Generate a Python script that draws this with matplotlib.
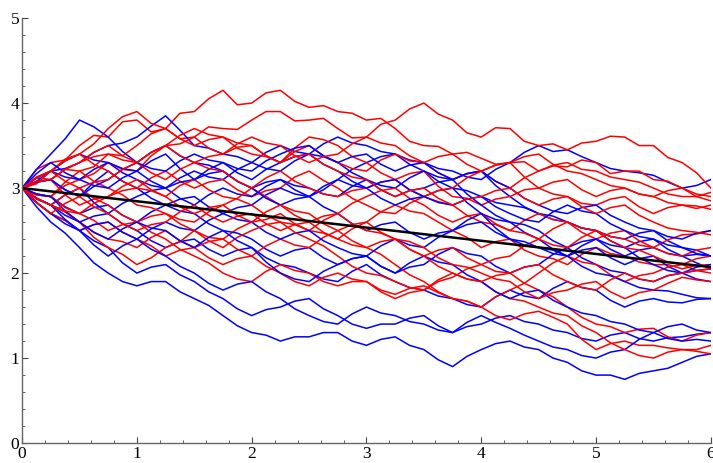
import numpy as np
import matplotlib
matplotlib.use("Agg")
import matplotlib.pyplot as plt
from matplotlib.ticker import MultipleLocator

# each path is sampled every 0.125 on [0, 6]
red_paths = [
    [3.0, 3.22, 3.3, 3.33, 3.5, 3.62, 3.6, 3.78, 3.8, 3.66, 3.7, 3.88, 3.9, 4.05, 4.15, 3.98, 4.0, 4.12, 4.15, 4.02, 3.95, 3.97, 3.9, 3.88, 3.8, 3.82, 3.7, 3.55, 3.5, 3.49, 3.4, 3.42, 3.35, 3.28, 3.3, 3.31, 3.2, 3.26, 3.25, 3.33, 3.3, 3.17, 3.2, 3.2, 3.1, 3.08, 3.0, 2.9, 2.95],
    [3.0, 3.12, 3.1, 3.22, 3.2, 3.25, 3.4, 3.38, 3.5, 3.64, 3.7, 3.58, 3.6, 3.72, 3.7, 3.69, 3.8, 3.9, 3.9, 3.79, 3.8, 3.82, 3.7, 3.59, 3.6, 3.75, 3.8, 3.93, 4.0, 3.87, 3.8, 3.65, 3.6, 3.71, 3.7, 3.55, 3.5, 3.52, 3.45, 3.53, 3.55, 3.61, 3.6, 3.5, 3.5, 3.36, 3.3, 3.18, 3.0],
    [3.0, 3.05, 3.2, 3.34, 3.4, 3.52, 3.7, 3.84, 3.9, 3.76, 3.7, 3.58, 3.5, 3.57, 3.6, 3.47, 3.4, 3.37, 3.3, 3.43, 3.5, 3.38, 3.3, 3.23, 3.2, 3.33, 3.4, 3.32, 3.3, 3.18, 3.1, 3.17, 3.2, 3.08, 3.0, 3.12, 3.2, 3.27, 3.3, 3.22, 3.2, 3.13, 3.1, 3.07, 3.0, 2.93, 2.9, 2.9, 2.85],
    [3.0, 2.92, 2.9, 3.03, 3.1, 3.17, 3.3, 3.22, 3.2, 3.38, 3.5, 3.52, 3.6, 3.47, 3.4, 3.48, 3.5, 3.38, 3.3, 3.47, 3.6, 3.57, 3.5, 3.37, 3.3, 3.18, 3.1, 3.17, 3.2, 3.02, 2.9, 2.88, 2.8, 2.87, 2.9, 2.98, 3.0, 2.93, 2.9, 2.82, 2.8, 2.87, 2.9, 2.78, 2.7, 2.77, 2.8, 2.76, 2.8],
    [3.0, 3.08, 3.1, 2.92, 2.8, 2.87, 2.9, 2.97, 3.0, 3.12, 3.2, 3.08, 3.0, 3.07, 3.1, 2.98, 2.9, 2.97, 3.0, 3.13, 3.2, 3.09, 3.0, 2.88, 2.8, 2.72, 2.7, 2.82, 2.9, 2.84, 2.8, 2.68, 2.6, 2.57, 2.5, 2.62, 2.7, 2.63, 2.6, 2.48, 2.4, 2.47, 2.5, 2.38, 2.3, 2.39, 2.45, 2.46, 2.5],
    [3.0, 2.88, 2.8, 2.72, 2.6, 2.42, 2.3, 2.22, 2.1, 2.18, 2.3, 2.37, 2.5, 2.42, 2.4, 2.52, 2.6, 2.63, 2.7, 2.58, 2.5, 2.47, 2.4, 2.52, 2.6, 2.72, 2.8, 2.73, 2.7, 2.6, 2.5, 2.42, 2.3, 2.37, 2.4, 2.27, 2.2, 2.17, 2.1, 2.22, 2.3, 2.23, 2.2, 2.13, 2.1, 2.1, 2.05, 2.09, 2.1],
    [3.0, 2.92, 2.9, 2.77, 2.7, 2.62, 2.5, 2.57, 2.6, 2.48, 2.4, 2.28, 2.2, 2.12, 2.0, 1.93, 1.9, 2.02, 2.1, 2.03, 2.0, 1.9, 1.85, 1.9, 1.9, 1.8, 1.75, 1.82, 1.85, 1.77, 1.7, 1.67, 1.6, 1.5, 1.45, 1.52, 1.55, 1.48, 1.4, 1.22, 1.1, 1.17, 1.2, 1.15, 1.15, 1.12, 1.1, 1.08, 1.05],
    [3.0, 2.83, 2.7, 2.62, 2.5, 2.57, 2.6, 2.48, 2.4, 2.32, 2.2, 2.27, 2.3, 2.18, 2.1, 2.17, 2.2, 2.08, 2.0, 1.9, 1.85, 1.95, 2.0, 1.93, 1.9, 1.78, 1.7, 1.77, 1.8, 1.9, 1.95, 2.05, 2.1, 2.02, 2.0, 1.88, 1.8, 1.72, 1.6, 1.48, 1.4, 1.37, 1.3, 1.34, 1.35, 1.25, 1.2, 1.27, 1.3],
    [3.0, 2.87, 2.8, 2.72, 2.6, 2.48, 2.4, 2.37, 2.3, 2.42, 2.5, 2.38, 2.3, 2.37, 2.4, 2.28, 2.2, 2.32, 2.4, 2.33, 2.3, 2.42, 2.5, 2.38, 2.3, 2.22, 2.1, 1.98, 1.9, 1.78, 1.7, 1.67, 1.6, 1.72, 1.8, 1.88, 2.0, 2.12, 2.2, 2.13, 2.1, 1.98, 1.9, 1.97, 2.0, 2.07, 2.1, 2.03, 2.0],
    [3.0, 3.13, 3.2, 3.32, 3.4, 3.28, 3.2, 3.08, 3.0, 2.97, 2.9, 3.03, 3.1, 2.98, 2.9, 2.87, 2.8, 2.68, 2.6, 2.57, 2.5, 2.62, 2.7, 2.58, 2.5, 2.47, 2.4, 2.28, 2.2, 2.27, 2.3, 2.18, 2.1, 2.17, 2.2, 2.32, 2.4, 2.33, 2.3, 2.42, 2.5, 2.43, 2.4, 2.33, 2.3, 2.23, 2.2, 2.27, 2.3],
    [3.0, 2.93, 2.9, 3.07, 3.2, 3.08, 3.0, 2.92, 2.8, 2.77, 2.7, 2.63, 2.6, 2.72, 2.8, 2.88, 3.0, 2.9, 2.8, 2.68, 2.6, 2.67, 2.7, 2.82, 2.9, 2.97, 3.0, 2.88, 2.8, 2.68, 2.6, 2.67, 2.7, 2.58, 2.5, 2.47, 2.4, 2.52, 2.6, 2.53, 2.5, 2.38, 2.3, 2.27, 2.2, 2.13, 2.1, 2.17, 2.2],
    [3.0, 3.07, 3.1, 3.22, 3.3, 3.42, 3.5, 3.38, 3.3, 3.18, 3.1, 3.22, 3.3, 3.23, 3.2, 3.08, 3.0, 3.12, 3.2, 3.08, 3.0, 2.93, 2.9, 2.97, 3.0, 3.07, 3.1, 2.98, 2.9, 2.97, 3.0, 3.12, 3.2, 3.27, 3.3, 3.37, 3.4, 3.28, 3.2, 3.17, 3.1, 3.03, 3.0, 2.93, 2.9, 2.97, 3.0, 2.93, 2.9],
    [3.0, 2.88, 2.8, 2.92, 3.0, 2.88, 2.8, 2.68, 2.6, 2.67, 2.7, 2.58, 2.5, 2.38, 2.3, 2.42, 2.5, 2.57, 2.6, 2.48, 2.4, 2.32, 2.2, 2.08, 2.0, 1.97, 1.9, 1.83, 1.8, 1.92, 2.0, 1.93, 1.9, 1.78, 1.7, 1.67, 1.6, 1.53, 1.5, 1.38, 1.3, 1.18, 1.1, 1.03, 1.0, 1.07, 1.1, 1.1, 1.15],
    [3.0, 3.12, 3.2, 3.08, 3.0, 3.07, 3.1, 3.22, 3.3, 3.42, 3.5, 3.38, 3.3, 3.37, 3.4, 3.52, 3.6, 3.53, 3.5, 3.38, 3.3, 3.37, 3.4, 3.52, 3.6, 3.53, 3.5, 3.38, 3.3, 3.37, 3.4, 3.28, 3.2, 3.27, 3.3, 3.13, 3.0, 3.07, 3.1, 2.98, 2.9, 2.97, 3.0, 2.93, 2.9, 2.83, 2.8, 2.79, 2.75],
    [3.0, 2.83, 2.7, 2.82, 2.9, 2.78, 2.7, 2.58, 2.5, 2.57, 2.6, 2.72, 2.8, 2.68, 2.6, 2.67, 2.7, 2.58, 2.5, 2.57, 2.6, 2.48, 2.4, 2.33, 2.3, 2.37, 2.4, 2.28, 2.2, 2.08, 2.0, 1.93, 1.9, 1.97, 2.0, 2.07, 2.1, 1.98, 1.9, 1.83, 1.8, 1.92, 2.0, 1.93, 1.9, 1.97, 2.0, 2.03, 2.05],
    [3.0, 3.07, 3.1, 3.22, 3.3, 3.37, 3.4, 3.33, 3.3, 3.42, 3.5, 3.62, 3.7, 3.63, 3.6, 3.53, 3.5, 3.38, 3.3, 3.37, 3.4, 3.28, 3.2, 3.13, 3.1, 2.98, 2.9, 2.97, 3.0, 2.88, 2.8, 2.87, 2.9, 2.97, 3.0, 2.88, 2.8, 2.87, 2.9, 2.78, 2.7, 2.77, 2.8, 2.68, 2.6, 2.53, 2.5, 2.48, 2.45],
    [3.0, 2.88, 2.8, 2.73, 2.7, 2.82, 2.9, 3.02, 3.1, 2.98, 2.9, 2.78, 2.7, 2.77, 2.8, 2.68, 2.6, 2.72, 2.8, 2.73, 2.7, 2.58, 2.5, 2.57, 2.6, 2.48, 2.4, 2.37, 2.3, 2.18, 2.1, 2.07, 2.0, 1.93, 1.9, 1.78, 1.7, 1.77, 1.8, 1.87, 1.9, 1.78, 1.7, 1.77, 1.8, 1.88, 1.95, 1.92, 1.9],
]

blue_paths = [
    [3.0, 3.12, 3.2, 3.32, 3.4, 3.33, 3.3, 3.18, 3.1, 3.03, 3.0, 3.12, 3.2, 3.13, 3.1, 3.22, 3.3, 3.23, 3.2, 3.32, 3.4, 3.52, 3.6, 3.53, 3.5, 3.43, 3.4, 3.33, 3.3, 3.23, 3.2, 3.13, 3.1, 3.22, 3.3, 3.42, 3.5, 3.43, 3.45, 3.37, 3.3, 3.23, 3.2, 3.18, 3.15, 3.07, 3.0, 3.03, 3.1],
    [3.0, 3.22, 3.4, 3.58, 3.8, 3.72, 3.6, 3.43, 3.3, 3.42, 3.5, 3.38, 3.3, 3.27, 3.2, 3.08, 3.0, 3.07, 3.1, 2.98, 2.9, 2.98, 3.1, 3.22, 3.3, 3.37, 3.4, 3.28, 3.2, 3.08, 3.0, 2.97, 2.9, 2.83, 2.8, 2.77, 2.7, 2.63, 2.6, 2.53, 2.5, 2.43, 2.4, 2.47, 2.5, 2.38, 2.3, 2.27, 2.2],
    [3.0, 3.08, 3.2, 3.23, 3.3, 3.42, 3.5, 3.53, 3.6, 3.73, 3.85, 3.68, 3.5, 3.47, 3.4, 3.37, 3.3, 3.42, 3.5, 3.43, 3.4, 3.37, 3.3, 3.18, 3.1, 2.98, 2.9, 2.97, 3.0, 3.07, 3.1, 3.17, 3.2, 3.03, 2.9, 2.78, 2.7, 2.67, 2.6, 2.53, 2.5, 2.38, 2.3, 2.37, 2.4, 2.28, 2.2, 2.12, 2.05],
    [3.0, 2.78, 2.6, 2.47, 2.3, 2.12, 2.0, 1.9, 1.85, 1.9, 1.9, 1.78, 1.7, 1.62, 1.5, 1.38, 1.3, 1.27, 1.2, 1.25, 1.25, 1.3, 1.3, 1.2, 1.15, 1.22, 1.25, 1.15, 1.1, 0.98, 0.9, 1.02, 1.1, 1.17, 1.2, 1.13, 1.1, 1.0, 0.95, 0.85, 0.8, 0.8, 0.75, 0.82, 0.85, 0.88, 0.95, 1.02, 1.05],
    [3.0, 2.83, 2.7, 2.62, 2.5, 2.38, 2.3, 2.12, 2.0, 2.07, 2.1, 1.98, 1.9, 1.78, 1.7, 1.58, 1.5, 1.57, 1.6, 1.67, 1.7, 1.58, 1.5, 1.4, 1.35, 1.4, 1.4, 1.47, 1.5, 1.38, 1.3, 1.37, 1.4, 1.47, 1.5, 1.43, 1.4, 1.33, 1.3, 1.23, 1.2, 1.27, 1.3, 1.23, 1.2, 1.24, 1.25, 1.28, 1.3],
    [3.0, 2.88, 2.8, 2.68, 2.6, 2.67, 2.7, 2.58, 2.5, 2.38, 2.3, 2.37, 2.4, 2.28, 2.2, 2.27, 2.3, 2.18, 2.1, 2.07, 2.0, 1.93, 1.9, 2.02, 2.1, 1.98, 1.9, 1.83, 1.8, 1.73, 1.7, 1.63, 1.6, 1.72, 1.8, 1.73, 1.7, 1.82, 1.9, 1.83, 1.8, 1.68, 1.6, 1.67, 1.7, 1.66, 1.65, 1.69, 1.7],
    [3.0, 2.93, 2.9, 2.78, 2.7, 2.77, 2.8, 2.68, 2.6, 2.72, 2.8, 2.73, 2.7, 2.58, 2.5, 2.47, 2.4, 2.28, 2.2, 2.27, 2.3, 2.18, 2.1, 2.17, 2.2, 2.08, 2.0, 2.07, 2.1, 2.22, 2.3, 2.23, 2.2, 2.08, 2.0, 2.07, 2.1, 2.22, 2.3, 2.18, 2.1, 2.03, 2.0, 1.93, 1.9, 1.97, 2.0, 1.93, 1.9],
    [3.0, 3.07, 3.1, 2.98, 2.9, 3.07, 3.2, 3.08, 3.0, 2.88, 2.8, 2.87, 2.9, 2.78, 2.7, 2.77, 2.8, 2.92, 3.0, 2.93, 2.9, 2.78, 2.7, 2.58, 2.5, 2.57, 2.6, 2.48, 2.4, 2.47, 2.5, 2.62, 2.7, 2.63, 2.6, 2.48, 2.4, 2.28, 2.2, 2.27, 2.3, 2.18, 2.1, 2.17, 2.2, 2.08, 2.0, 2.03, 2.05],
    [3.0, 3.12, 3.2, 3.13, 3.1, 3.22, 3.3, 3.23, 3.2, 3.08, 3.0, 3.07, 3.1, 3.22, 3.3, 3.23, 3.2, 3.32, 3.4, 3.47, 3.5, 3.38, 3.3, 3.37, 3.4, 3.28, 3.2, 3.27, 3.3, 3.18, 3.1, 3.17, 3.2, 3.08, 3.0, 2.88, 2.8, 2.73, 2.7, 2.77, 2.8, 2.68, 2.6, 2.53, 2.5, 2.43, 2.4, 2.47, 2.5],
    [3.0, 2.88, 2.8, 2.92, 3.0, 2.83, 2.7, 2.82, 2.9, 2.97, 3.0, 2.88, 2.8, 2.92, 3.0, 2.93, 2.9, 3.02, 3.1, 3.03, 3.0, 2.93, 2.9, 3.02, 3.1, 3.03, 3.0, 3.12, 3.2, 3.13, 3.1, 2.93, 2.8, 2.68, 2.6, 2.57, 2.5, 2.38, 2.3, 2.37, 2.4, 2.28, 2.2, 2.27, 2.3, 2.23, 2.2, 2.22, 2.2],
    [3.0, 2.83, 2.7, 2.58, 2.5, 2.57, 2.6, 2.48, 2.4, 2.52, 2.6, 2.53, 2.5, 2.62, 2.7, 2.63, 2.6, 2.48, 2.4, 2.47, 2.5, 2.38, 2.3, 2.23, 2.2, 2.32, 2.4, 2.33, 2.3, 2.42, 2.5, 2.57, 2.6, 2.48, 2.4, 2.33, 2.3, 2.23, 2.2, 2.32, 2.4, 2.33, 2.3, 2.18, 2.1, 2.03, 2.0, 2.07, 2.1],
    [3.0, 3.17, 3.3, 3.18, 3.1, 3.03, 3.0, 3.12, 3.2, 3.32, 3.4, 3.23, 3.1, 3.17, 3.2, 3.08, 3.0, 2.88, 2.8, 2.87, 2.9, 3.02, 3.1, 3.03, 3.0, 2.88, 2.8, 2.87, 2.9, 2.97, 3.0, 2.83, 2.7, 2.53, 2.4, 2.37, 2.3, 2.27, 2.2, 2.08, 2.0, 1.97, 1.9, 1.83, 1.8, 1.79, 1.75, 1.71, 1.7],
    [3.0, 2.88, 2.8, 2.63, 2.5, 2.33, 2.2, 2.32, 2.4, 2.28, 2.2, 2.08, 2.0, 1.88, 1.8, 1.87, 1.9, 1.78, 1.7, 1.58, 1.5, 1.43, 1.4, 1.52, 1.6, 1.53, 1.5, 1.43, 1.4, 1.33, 1.3, 1.42, 1.5, 1.42, 1.35, 1.27, 1.2, 1.13, 1.1, 1.03, 1.0, 1.07, 1.1, 1.22, 1.3, 1.23, 1.2, 1.22, 1.2],
    [3.0, 3.07, 3.1, 2.98, 2.9, 3.02, 3.1, 3.22, 3.3, 3.23, 3.2, 3.32, 3.4, 3.33, 3.3, 3.18, 3.1, 3.22, 3.3, 3.37, 3.4, 3.28, 3.2, 3.08, 3.0, 3.07, 3.1, 2.98, 2.9, 2.83, 2.8, 2.87, 2.9, 2.78, 2.7, 2.63, 2.6, 2.72, 2.8, 2.73, 2.7, 2.58, 2.5, 2.43, 2.4, 2.33, 2.3, 2.23, 2.2],
    [3.0, 2.93, 2.9, 2.73, 2.6, 2.48, 2.4, 2.52, 2.6, 2.53, 2.5, 2.38, 2.3, 2.42, 2.5, 2.38, 2.3, 2.13, 2.0, 1.93, 1.9, 2.02, 2.1, 2.17, 2.2, 2.08, 2.0, 2.12, 2.2, 2.13, 2.1, 1.98, 1.9, 1.78, 1.7, 1.77, 1.8, 1.68, 1.6, 1.53, 1.5, 1.43, 1.4, 1.33, 1.3, 1.37, 1.4, 1.33, 1.3],
]

# mean curve
mean_t = [0, 6]
mean_y = [3.0, 2.07]

plt.rcParams['font.family'] = ['Liberation Serif', 'DejaVu Serif']

fig = plt.figure(figsize=(7.13, 4.63), dpi=100)
ax = fig.add_axes([0.031, 0.043, 0.966, 0.918])

# interleave the two colours so neither sits entirely on top
for i in range(max(len(red_paths), len(blue_paths))):
    if i < len(blue_paths):
        p = blue_paths[i]
        ax.plot(np.linspace(0, 6, len(p)), p, color='#0000ff', lw=1.1)
    if i < len(red_paths):
        p = red_paths[i]
        ax.plot(np.linspace(0, 6, len(p)), p, color='#ff0000', lw=1.1)

ax.plot(mean_t, mean_y, color='black', lw=1.8)

ax.set_xlim(0, 6)
ax.set_ylim(0, 5)
ax.xaxis.set_major_locator(MultipleLocator(1))
ax.xaxis.set_minor_locator(MultipleLocator(0.2))
ax.yaxis.set_major_locator(MultipleLocator(1))
ax.yaxis.set_minor_locator(MultipleLocator(0.2))

for side in ['top', 'right']:
    ax.spines[side].set_visible(False)
for side in ['left', 'bottom']:
    ax.spines[side].set_color('#666666')
    ax.spines[side].set_linewidth(1.0)

ax.tick_params(which='both', direction='in', color='#444444', labelsize=12.5)
ax.tick_params(which='major', length=4, width=0.8, pad=2)
ax.tick_params(which='minor', length=2, width=0.6)

fig.savefig('out.png', dpi=100)
